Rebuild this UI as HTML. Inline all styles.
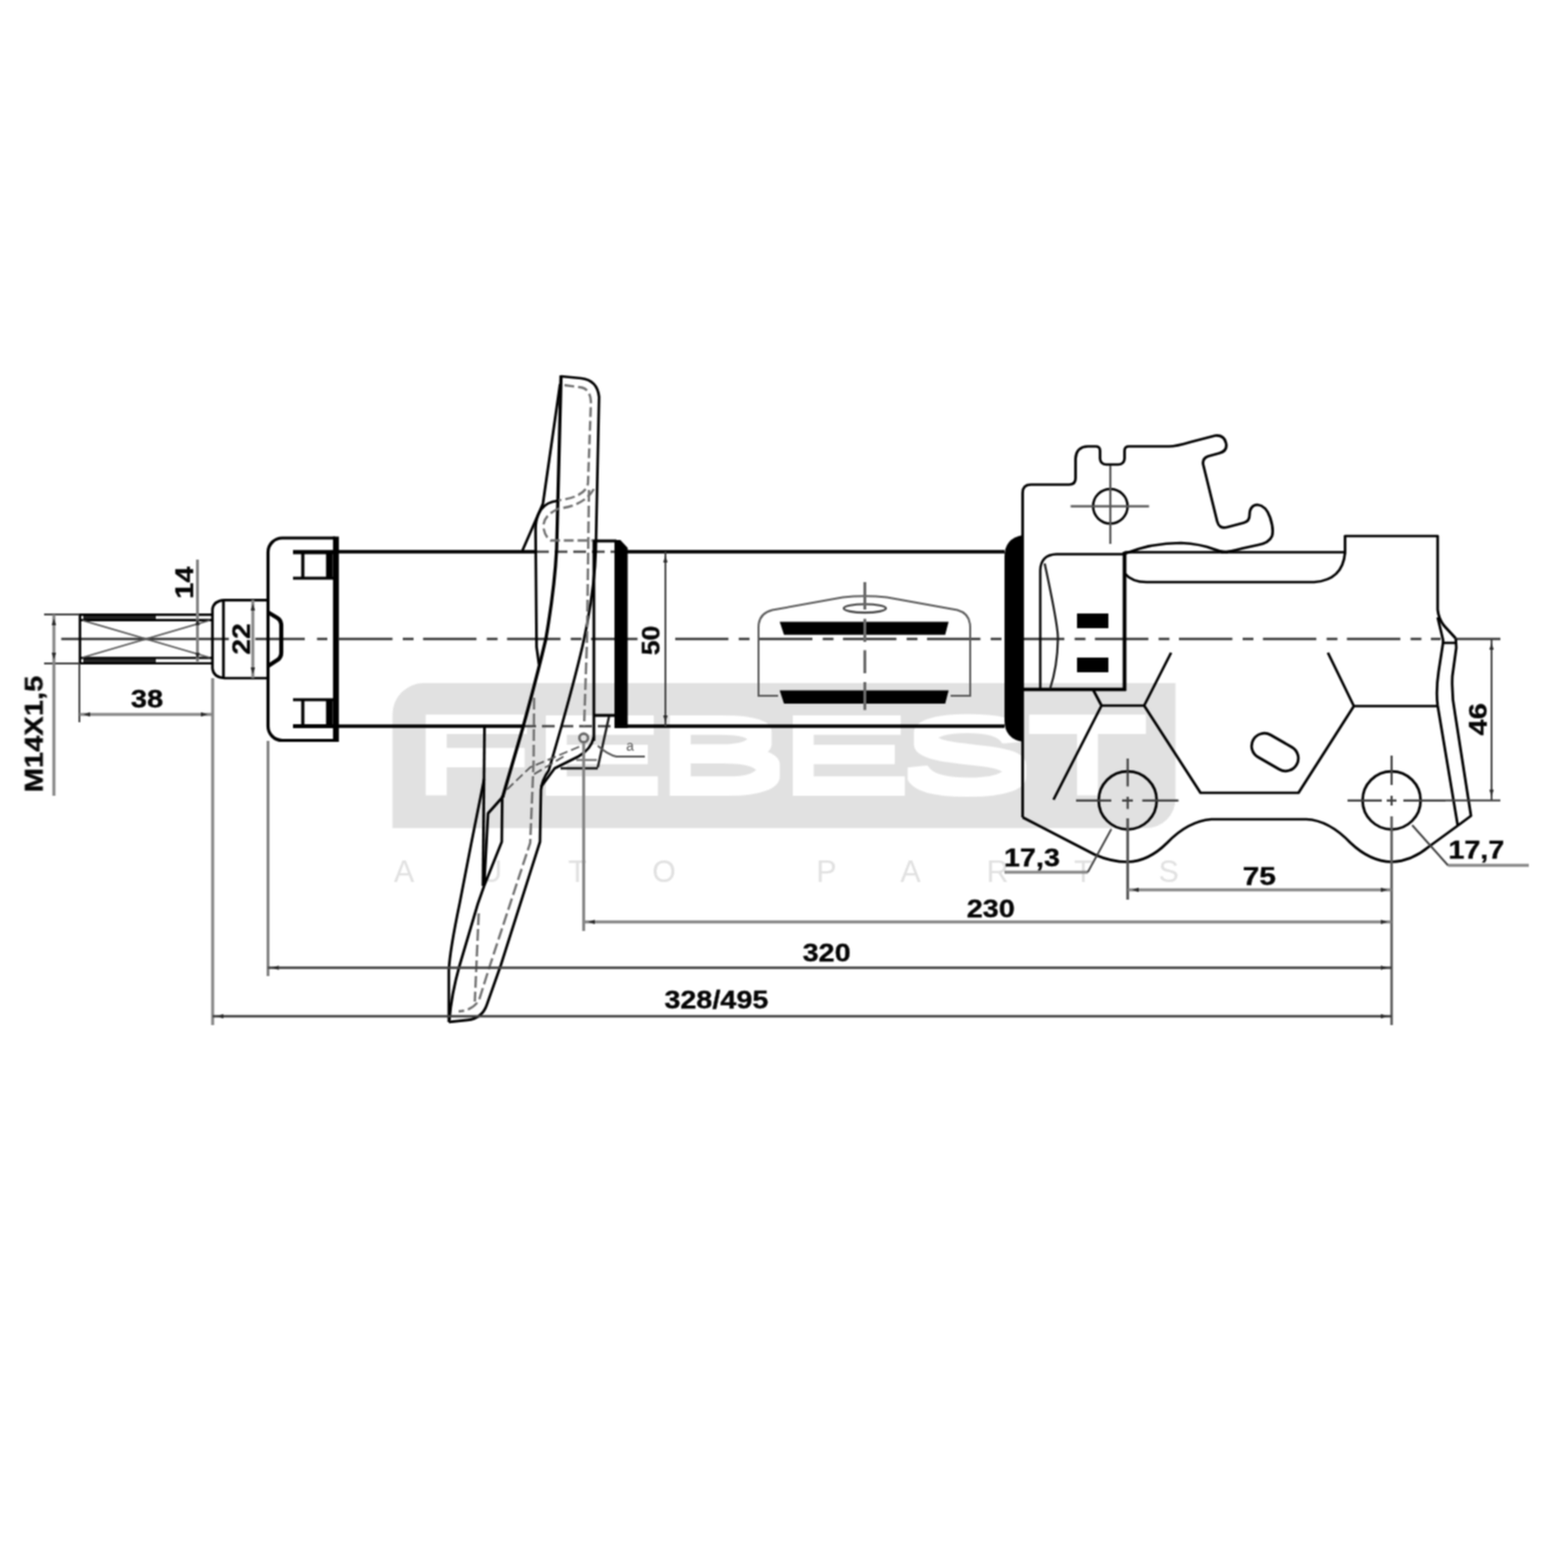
<!DOCTYPE html>
<html lang="en">
<head>
<meta charset="utf-8">
<title>Shock absorber drawing</title>
<style>
html,body{margin:0;padding:0;background:#fff;}
body{width:1600px;height:1600px;overflow:hidden;position:relative;}
svg{position:absolute;left:0;top:0;display:block;}
.k{stroke:#000;stroke-width:2.7;fill:none;stroke-linecap:butt;stroke-linejoin:round;}
.m{stroke:#1a1a1a;stroke-width:2.4;fill:none;stroke-linejoin:round;}
.t{stroke:#404040;stroke-width:1.9;fill:none;}
.g{stroke:#858585;stroke-width:3;fill:none;}
.d{stroke:#707070;stroke-width:2.4;fill:none;stroke-dasharray:10 4;}
.c{stroke:#3a3a3a;stroke-width:2.4;fill:none;}
.b{fill:#000;stroke:none;}
.a{fill:#2a2a2a;stroke:none;}
.w{fill:#fff;stroke:none;}
.dim{font-family:"Liberation Sans",Arial,sans-serif;font-weight:bold;font-size:25px;fill:#050505;stroke:#050505;stroke-width:0.35;text-anchor:middle;}
.wm{font-family:"Liberation Sans",Arial,sans-serif;}
</style>
</head>
<body>
<svg id="drawing" width="1600" height="1600" viewBox="0 0 1600 1600">
<rect x="0" y="0" width="1600" height="1600" fill="#fff"/>
<defs><filter id="soft" x="0" y="0" width="1600" height="1600" filterUnits="userSpaceOnUse" color-interpolation-filters="sRGB"><feConvolveMatrix order="3" kernelMatrix="1 2 1 2 4 2 1 2 1" divisor="16" edgeMode="duplicate" preserveAlpha="false"/></filter></defs>
<g id="art" filter="url(#soft)">
<g id="watermark">
<defs><filter id="fat" x="-5%" y="-30%" width="110%" height="160%"><feMorphology operator="dilate" radius="0.5 6"/></filter></defs>
<path d="M432.5 697 H1199.5 V815 A30 30 0 0 1 1169.5 845 H400.5 V729 A32 32 0 0 1 432.5 697 Z" fill="#e1e1e1"/>
<g filter="url(#fat)"><g transform="translate(0,806) scale(2.03,1)">
<text class="wm" x="206.2 266.5 328.82 390.64 451.97 515.52" y="0" font-size="102" fill="#ffffff">FEBEST</text>
</g></g>
<text class="wm" x="402" y="900" font-size="31" fill="#e1e1e1" textLength="801" lengthAdjust="spacing">AUTO PARTS</text>
</g>
<g id="body">
<!-- centre line -->
<path class="c" d="M62.5 652 H334" style="stroke-dasharray:248.5 12.5 10.5 100"/>
<path class="c" d="M346 652 H1470" style="stroke-dasharray:54.5 10.5 11 9.7"/>
<rect class="w" x="233.5" y="648" width="27" height="8"/>
<rect class="w" x="650.5" y="648" width="38.5" height="8"/>
<path class="t" d="M1486 652 H1531" style="stroke-width:2.4"/>
<!-- threaded rod -->
<rect x="85" y="627" width="74" height="5.6" fill="#262626"/>
<rect x="85" y="671.6" width="74" height="5.6" fill="#262626"/>
<path d="M81 627.2 H216 M81 632.8 H216 M81 671.4 H216 M81 676.9 H216" stroke="#000" stroke-width="2.4" fill="none"/>
<path class="k" d="M81.6 626 V678" style="stroke-width:2.6"/>
<path d="M84 633 L214 671 M84 671 L214 633" stroke="#555" stroke-width="1.7" fill="none"/>
<!-- nut -->
<path class="k" d="M272 612.3 H229 Q217.5 613 216.8 622 V682 Q217.5 691 229 692 H272"/>
<path class="k" d="M228 612.5 V692" style="stroke-width:2.8"/>
<path class="k" d="M273 624.5 L283 630.5 Q287 633 287 638 V666 Q287 671 283 673.5 L273 680" style="stroke-width:4.2"/>
<!-- cap -->
<path class="k" d="M342 549 H288 A14.5 14.5 0 0 0 273.5 563.5 V741 A14.5 14.5 0 0 0 288 755.5 H342" style="stroke-width:3.2"/>
<path d="M342.8 547.5 V757" stroke="#000" stroke-width="6" fill="none"/>
<path class="k" d="M299 563.3 H340 M299 741 H340" style="stroke-width:4.2"/>
<path class="k" d="M299 590 H340 M299 714 H340 M309 563.5 V590 M309 714 V741" style="stroke-width:3.2"/>
<path d="M336.2 563.5 V590 M336.2 714 V741" stroke="#000" stroke-width="7" fill="none"/>
<!-- tube -->
<path class="k" d="M345 563 H547 M640 563 H1025 M345 741 H534 M640 741 H1025" style="stroke-width:3.4"/>
<path class="d" d="M547 563 H627 M534 741 H627" style="stroke:#4a4a4a;stroke-width:2.4;stroke-dasharray:13 6"/>
<!-- middle clip -->
<path d="M794 710 H774 V640 Q774 626 788 622.5 L860 609.5 Q882 607 905 609.5 L977 622.5 Q990 626 990 640 V710 H970" stroke="#5a5a5a" stroke-width="2" fill="none"/>
<path class="b" d="M795.6 634.4 H968 L964.5 647.8 H800 Z"/>
<path class="b" d="M795.6 704.5 H968 L964.5 718 H800 Z"/>
<ellipse cx="882.5" cy="620.8" rx="21.5" ry="4.3" stroke="#444" stroke-width="2.2" fill="none"/>
<path class="g" d="M882.5 594 V724.5" style="stroke:#6a6a6a;stroke-width:3;stroke-dasharray:28 9.6 23.4 8.5 23.5 9 28.5"/>
<!-- right collar -->
<path class="b" d="M1044 546 Q1025 549 1025 568 V735 Q1025 754 1044 757 Z"/>
</g>
<g id="seat">
<!-- collar at seat -->
<path class="b" d="M627 551 H633 L640.5 559 V743 H627 Z"/>
<path class="k" d="M605 552 H629 M606 552 V756 M606 730 H627" style="stroke-width:2.8"/>
<path class="m" d="M621.5 731 L610 783 M572 784 H610" />
<path class="t" d="M588 775.5 H609" style="stroke:#666"/>
<!-- outline top -->
<path class="k" d="M572.5 384 L593 386 Q609.5 388 611.3 405 L608 560 Q607 600 596 652 Q590 680 573 741 L560 786 Q553 796 552 806 L551 859 L531 922 L511 985 L496.5 1026 Q491.5 1039.5 477 1040.8 L458 1042.8"/>
<path class="k" d="M572.5 383 L568 560 Q566 600 557 652 Q548 690 534 741 L513 813" style="stroke-width:3.3"/>
<path class="k" d="M571.5 392 L554 514 L533 562" />
<path class="k" d="M569 511 Q558 512 552 520 Q546.5 528 546.5 540 L547.5 660 L550 678"/>
<!-- pivot curve -->
<path class="k" d="M606 752 Q603 765 590 772 L566 784 L552 803" />
<!-- lower -->
<path class="k" d="M494.4 741 L492.8 904"/>
<path class="k" d="M494 795 L481 860 L469 922 Q459 970 458 990 L458 1043"/>
<path class="k" d="M514 812 L498 830 L494 904 M512.5 812 L512 859 L494 904 L487.5 922.5 L469 985 Q460.5 1015 458.5 1041"/>
<!-- dashed -->
<path class="d" d="M576 393 L594 395.5 Q602.5 398 603 410 L600 493 Q598 507 570 510.5"/>
<path class="d" d="M606 499 Q596 516 570 519 Q554 526 554.5 538 Q556 548 562 551.5 H605"/>
<path class="d" d="M601 500 L599 652 L596 741" style="stroke-dasharray:12 4"/>
<path class="d" d="M545 712 L544.5 777 L541 860 L500 985 L489 1020 Q483 1031 468 1032" style="stroke-dasharray:12 4"/>
<path class="d" d="M488.5 932 L484.5 1022" style="stroke-dasharray:12 4"/>
<path class="t" d="M591 762 L541 783 L515 808 M575 772 L545 790" style="stroke:#555;stroke-width:1.8;stroke-dasharray:9 4"/>
<circle cx="595.6" cy="753" r="4.4" stroke="#666" stroke-width="2.6" fill="none"/>
<path class="t" d="M610 761 Q620 770 629 772 H658" style="stroke:#555"/>
<path class="g" d="M595.6 758 V950" style="stroke-width:3"/>
<text x="643" y="766" style="font-family:'Liberation Sans',sans-serif;font-size:14px;fill:#555;text-anchor:middle">a</text>
</g>
<g id="bracket">
<!-- outer outline -->
<path class="k" d="M1043.5 834 V503 Q1043.5 494.5 1052 494.5 H1091 Q1097.5 494.5 1097.5 488 V468 Q1098 456 1110 455.5 H1118 Q1122.5 455.5 1122.5 460 V468 Q1123 474 1129 474 H1141 Q1147 474 1147.5 468 V460 Q1147.5 455.5 1152 455.5 H1193 Q1200 455.5 1215 451 L1240 444.5 Q1249 443.5 1251 452 Q1253 460 1244 462.5 L1233 465.5 Q1226 468 1228 475 L1242 532 Q1244 540 1252 538 L1269 533.5 Q1275 532 1275 526 Q1275 515.5 1283 515 Q1292 516 1296 528 Q1300 540 1298 547 Q1295 554 1284 556 L1268 559.5 Q1256 563 1246 563.5"/>
<path class="k" d="M1147.5 565 Q1175 554 1205 554 Q1225 555 1239 560.5 Q1246 563.5 1253 563.5"/>
<path class="k" d="M1147.5 563.5 H1372.5 V547 H1467 V622 Q1468 632 1474 639 L1485.5 651.5"/>
<path class="k" d="M1147.5 585 Q1155 594 1170 594 H1341 Q1370 592 1372.5 564"/>
<!-- inner rounded part -->
<path class="k" d="M1061.5 703 V582 Q1062 566 1078 565.5 H1147.5" style="stroke-width:2.4"/>
<path class="k" d="M1147.5 563 V705" style="stroke-width:3.8"/>
<path class="k" d="M1043.5 703.5 H1149" style="stroke-width:3.4"/>
<path class="m" d="M1066 575 Q1080 640 1079.5 652 Q1079 680 1071.5 703" style="stroke-width:2.2"/>
<path class="b" d="M1099 626 H1131 V641 H1099 Z M1099 671 H1131 V686 H1099 Z"/>
<!-- small circle with crosshair -->
<circle cx="1133" cy="516.6" r="17.6" class="k" style="stroke-width:2.5"/>
<path class="t" d="M1092.5 516.6 H1172.5 M1133 475 V555" style="stroke:#555;stroke-width:2.2"/>
<!-- hex lines -->
<path class="k" d="M1115 703 L1124 720 H1167.5 L1195 666 M1124 720 L1075 816 M1167.5 720 L1225 809 H1325 L1381.5 720.5 H1467 M1381.5 720.5 L1355 666"/>
<!-- slot -->
<rect x="-25.5" y="-13" width="51" height="26" rx="13" ry="13" transform="translate(1301 767.5) rotate(30)" class="k"/>
<!-- right flange -->
<path class="k" d="M1467 630 L1472.5 653 V656 H1486 M1485.5 651.5 L1486 661 L1482 690 Q1481 710 1485 730 L1501 832.5 L1487.5 842.5 M1472.5 656 L1468 685 Q1465 705 1467 720 L1487.5 842.5"/>
<!-- bottom edge -->
<path class="k" d="M1043.5 834 L1117 872 Q1134 879.5 1150.5 879.5 Q1172 879 1191 860 Q1212 838 1236 836 H1333 Q1356 837 1378 860 Q1398 879 1420 879.5 Q1440 879 1458 864 L1487.5 842.5"/>
<!-- big circles -->
<circle cx="1150.7" cy="816.7" r="29.6" class="k" style="stroke-width:2.7"/>
<circle cx="1420" cy="816.7" r="29.6" class="k" style="stroke-width:2.7"/>
<path class="t" d="M1098 816.9 H1202.5" style="stroke-width:2.2;stroke-dasharray:36 11 11 9.6 100"/>
<path class="t" d="M1150.7 774 V835" style="stroke-width:2.2;stroke-dasharray:28.5 10.5 12.6 9.4 100"/>
<path class="g" d="M1150.7 835 V918" style="stroke:#555;stroke-width:2.8"/>
<path class="t" d="M1375 816.9 H1475" style="stroke-width:2.2;stroke-dasharray:35 5 10 7 100"/>
<path class="t" d="M1420 771 V833" style="stroke-width:2.2;stroke-dasharray:30 11 10 11 100"/>
<path class="g" d="M1420 833 V1046" style="stroke:#5a5a5a;stroke-width:2.6"/>
</g>
<g id="dims">
<!-- extension + dimension lines -->
<path class="t" d="M45 627 H81 M45 677 H81 M81 677 V737"/>
<path class="g" d="M55 627 V812 M81 729 H216 M201.5 571 V675 M217 692 V1046 M273.5 756 V996 M258 612 V692"/>
<path class="t" d="M679 563 V741"/>
<path class="g" d="M1151 908 H1420 M596 940.7 H1420"/>
<path class="t" d="M273.5 987.5 H1420 M217 1037 H1420" style="stroke-width:2.4"/>
<path class="t" d="M1475 816.7 H1531 M1522 652 V816.7"/>
<path class="g" d="M1025 890 H1110 M1477.5 883 H1560" style="stroke-width:3"/>
<path class="t" d="M1110 890 L1134 846 M1441 842 L1477.5 883"/>
<!-- arrow heads -->
<path class="a" d="M85 729 L92 726.7 V731.3 Z M212 729 L205 726.7 V731.3 Z M1155 908 L1162 905.7 V910.3 Z M1416 908 L1409 905.7 V910.3 Z M600 940.7 L607 938.4 V943 Z M1416 940.7 L1409 938.4 V943 Z M277.5 987.5 L284.5 985.2 V989.8 Z M1416 987.5 L1409 985.2 V989.8 Z M221 1037 L228 1034.7 V1039.3 Z M1416 1037 L1409 1034.7 V1039.3 Z M55 631 L52.7 638 H57.3 Z M55 673 L52.7 666 H57.3 Z M201.5 631 L199.2 638 H203.8 Z M201.5 673 L199.2 666 H203.8 Z M258 616 L255.7 623 H260.3 Z M258 688 L255.7 681 H260.3 Z M679 567 L676.7 574 H681.3 Z M679 737 L676.7 730 H681.3 Z M1522 656 L1519.7 663 H1524.3 Z M1522 812.7 L1519.7 805.7 H1524.3 Z"/>
<!-- dimension texts -->
<text class="dim" x="150" y="722" textLength="33" lengthAdjust="spacingAndGlyphs">38</text>
<text class="dim" x="1053" y="884" textLength="57" lengthAdjust="spacingAndGlyphs">17,3</text>
<text class="dim" x="1506.5" y="876" textLength="57" lengthAdjust="spacingAndGlyphs">17,7</text>
<text class="dim" x="1285" y="902.5" textLength="34" lengthAdjust="spacingAndGlyphs">75</text>
<text class="dim" x="1011" y="936" textLength="49" lengthAdjust="spacingAndGlyphs">230</text>
<text class="dim" x="843.5" y="981" textLength="49" lengthAdjust="spacingAndGlyphs">320</text>
<text class="dim" x="731" y="1029" textLength="106" lengthAdjust="spacingAndGlyphs">328/495</text>
<text class="dim" transform="translate(43.5 749) rotate(-90)" x="0" y="0" textLength="119" lengthAdjust="spacingAndGlyphs">M14X1,5</text>
<text class="dim" transform="translate(197 594.5) rotate(-90)" x="0" y="0" textLength="33" lengthAdjust="spacingAndGlyphs">14</text>
<text class="dim" transform="translate(255 652) rotate(-90)" x="0" y="0" textLength="32" lengthAdjust="spacingAndGlyphs">22</text>
<text class="dim" transform="translate(672.5 653.5) rotate(-90)" x="0" y="0" textLength="30" lengthAdjust="spacingAndGlyphs">50</text>
<text class="dim" transform="translate(1517 734) rotate(-90)" x="0" y="0" textLength="33" lengthAdjust="spacingAndGlyphs">46</text>
</g>
</g>
</svg>
</body>
</html>
